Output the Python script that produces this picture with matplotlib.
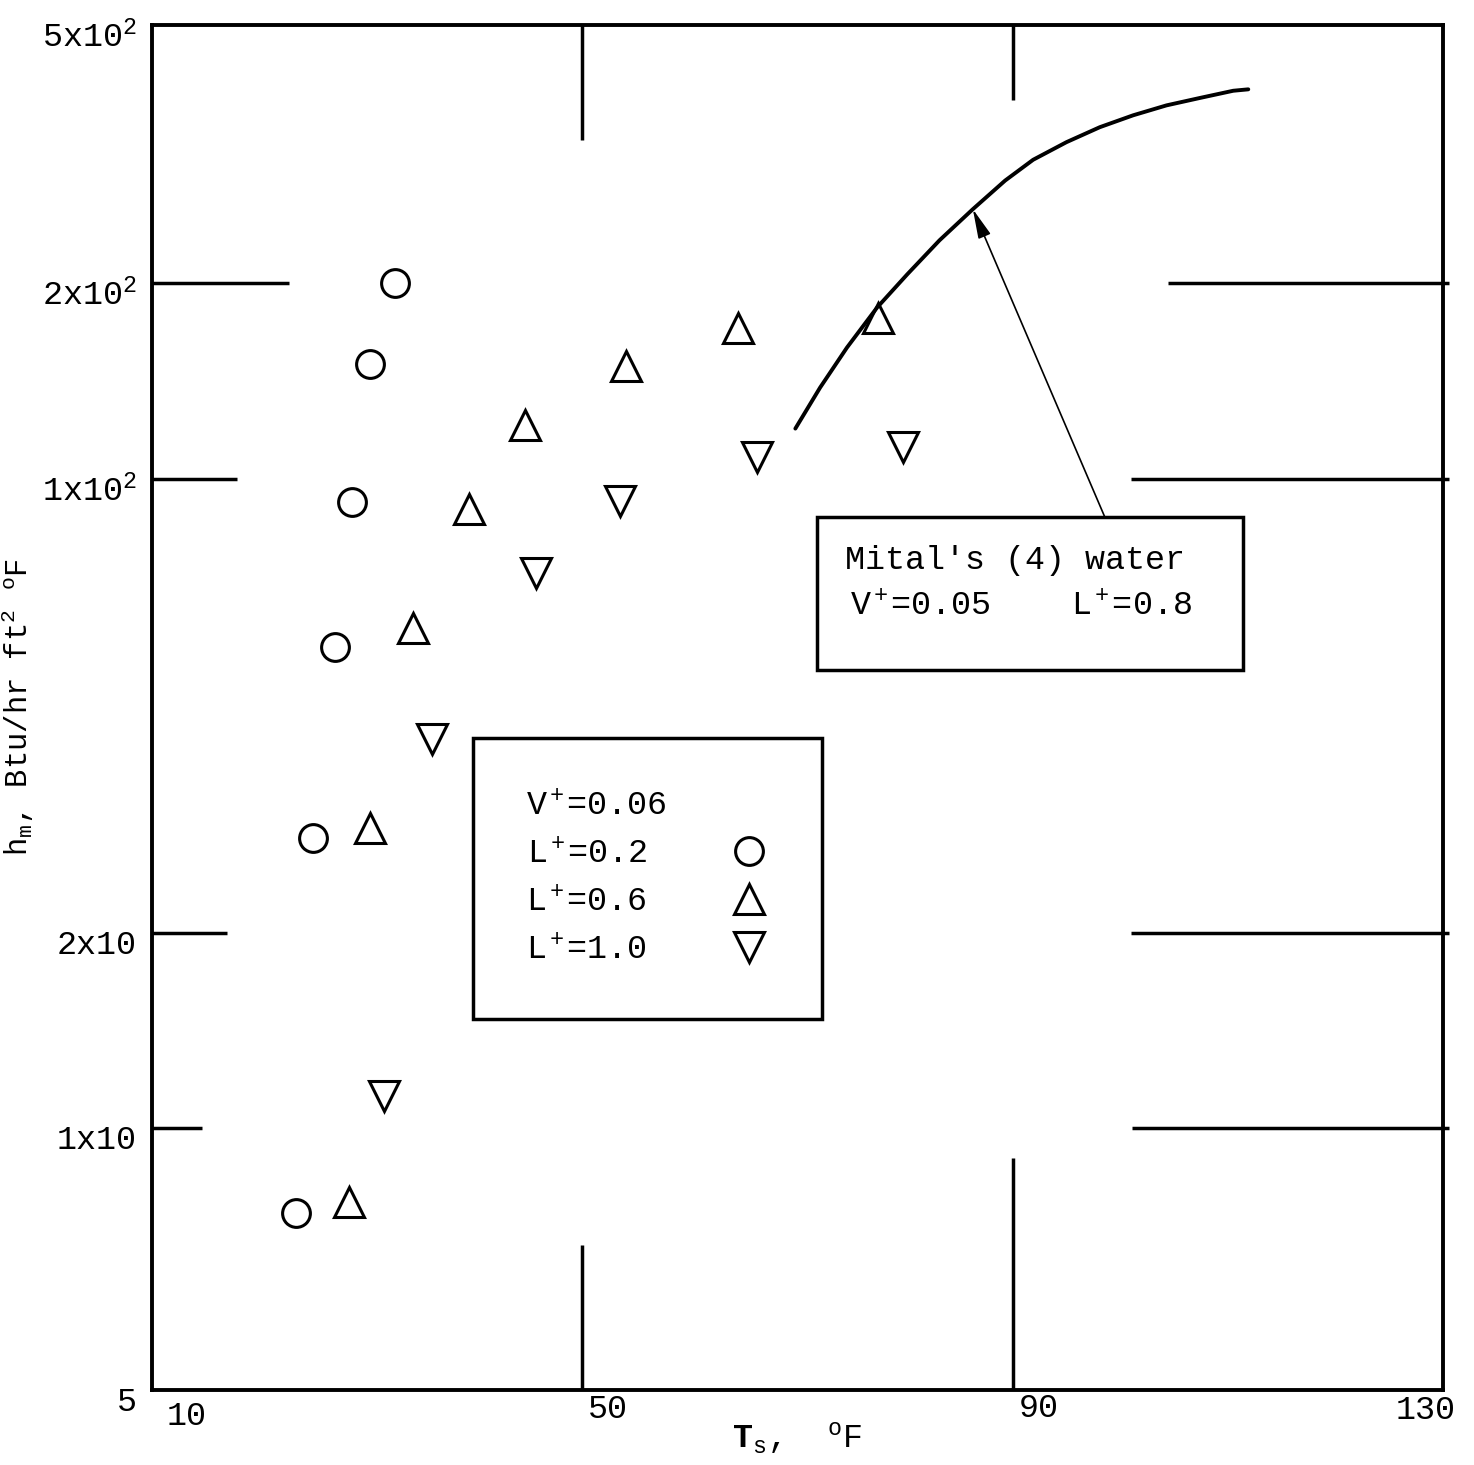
import matplotlib
matplotlib.use("Agg")
import matplotlib.pyplot as plt
from matplotlib.patches import Rectangle
from matplotlib.ticker import NullLocator
from matplotlib.transforms import ScaledTranslation

# surface temperature (F) vs mean heat transfer coefficient h_m
circ_T = [32.6, 30.3, 28.6, 27.0, 25.0, 23.4]          # L+ = 0.2
circ_h = [200, 150, 92, 55, 28, 7.4]
up_T = [64.5, 77.5, 54.1, 44.7, 39.5, 34.3, 30.3, 28.3]  # L+ = 0.6
up_h = [171, 177, 149, 121, 90, 59, 29, 7.7]
down_T = [79.8, 66.2, 53.5, 45.7, 36.0, 31.6]          # L+ = 1.0
down_h = [112, 108, 92.5, 71.6, 39.8, 11.2]

# Mital's (4) water curve, V+=0.05, L+=0.8
mital_T = [69.8, 72.1, 74.6, 77.4, 80.2, 83.2, 86.3, 89.3,
           91.9, 95.0, 98.1, 101.2, 104.3, 107.4, 110.5, 111.9]
mital_h = [119.5, 138.2, 159.3, 183.6, 206.5, 233.0, 260.2, 288,
           310, 330, 348, 363, 376, 386, 396, 398]

y_floor = 3.95
xtick_vals = [10, 50, 90, 130]
xtick_text = ["10", "50", "90", "130"]
ytick_vals = [y_floor, 10, 20, 100, 200, 500]
ytick_text = ["5", "1x10", "2x10", "1x10$^2$", "2x10$^2$", "5x10$^2$"]

plt.rcParams["font.family"] = ["Liberation Mono", "DejaVu Sans"]
plt.rcParams["mathtext.fontset"] = "custom"
plt.rcParams["mathtext.rm"] = "Liberation Mono"
plt.rcParams["mathtext.it"] = "Liberation Mono"
plt.rcParams["mathtext.bf"] = "Liberation Mono:bold"

FS = 24

fig = plt.figure(figsize=(14.74, 14.65), dpi=100)
ax = fig.add_axes([152 / 1474, 75 / 1465, 1291 / 1474, 1365 / 1465])
ax.set_yscale("log")
ax.set_xlim(10, 130)
ax.set_ylim(y_floor, 500)

for s in ax.spines.values():
    s.set_linewidth(2.8)

ax.set_xticks(xtick_vals, xtick_text, fontsize=FS)
ax.set_yticks(ytick_vals, ytick_text, fontsize=FS)
ax.yaxis.set_minor_locator(NullLocator())
ax.tick_params(length=0, pad=8)
ax.tick_params(axis="y", pad=11)

# nudge tick labels the way they sit on the sheet
for lab in ax.get_yticklabels():
    lab.set_transform(lab.get_transform() + ScaledTranslation(0, -0.09, fig.dpi_scale_trans))
x_nudge = [(0.09, 0.0), (0.0, 0.07), (0.0, 0.08), (-0.17, 0.06)]
for lab, (dx, dy) in zip(ax.get_xticklabels(), x_nudge):
    if lab.get_text() != "130":
        lab.set_ha("left")
        dx += 0.06
    lab.set_transform(lab.get_transform() + ScaledTranslation(dx, dy, fig.dpi_scale_trans))

# long grid marks drawn in from the frame
ytr = ax.get_yaxis_transform()
xtr = ax.get_xaxis_transform()
kw = dict(color="k", lw=2.5, solid_capstyle="butt", clip_on=False)
for y, x1 in zip([200, 100, 20, 10], [0.106, 0.066, 0.058, 0.039]):
    ax.plot([0, x1], [y, y], transform=ytr, **kw)
for y, x0 in zip([200, 100, 20, 10], [0.787, 0.758, 0.758, 0.759]):
    ax.plot([x0, 1.005], [y, y], transform=ytr, **kw)
for x, y0 in zip([50, 90], [0.916, 0.945]):
    ax.plot([x, x], [y0, 1], transform=xtr, **kw)
for x, y1 in zip([50, 90], [0.106, 0.170]):
    ax.plot([x, x], [0, y1], transform=xtr, **kw)

mk = dict(ls="none", mfc="none", mec="k", mew=2.2)
ax.plot(circ_T, circ_h, "o", ms=20, label="L$^+$=0.2", **mk)
ax.plot(up_T, up_h, "^", ms=22, label="L$^+$=0.6", **mk)
ax.plot(down_T, down_h, "v", ms=22, label="L$^+$=1.0", **mk)

ax.plot(mital_T, mital_h, color="k", lw=2.8, solid_capstyle="round")

leg = ax.legend(title="V$^+$=0.06", alignment="left", loc="upper left",
                bbox_to_anchor=(0.2486, 0.478), borderaxespad=0,
                markerfirst=False, fancybox=False, edgecolor="k", framealpha=1,
                fontsize=FS, title_fontsize=FS, borderpad=1.6,
                handlelength=1.2, handletextpad=2.45, labelspacing=0.5,
                numpoints=1)
leg.get_frame().set_linewidth(2.5)

# note box for the water curve
ax.add_patch(Rectangle((0.515, 0.5275), 0.33, 0.1121, transform=ax.transAxes,
                       fill=False, ec="k", lw=2.5))
ax.text(0.537, 0.608, "Mital's (4) water", transform=ax.transAxes,
        fontsize=FS, va="center", ha="left")
ax.text(0.5407, 0.5736, "V$^+$=0.05    L$^+$=0.8", transform=ax.transAxes,
        fontsize=FS, va="center", ha="left")
ax.annotate("", xy=(mital_T[6], mital_h[6]), xycoords="data",
            xytext=(0.738, 0.6396), textcoords="axes fraction",
            arrowprops=dict(arrowstyle="-|>,head_length=0.9,head_width=0.2",
                            color="k", lw=1.2, mutation_scale=20,
                            shrinkA=0, shrinkB=0))

ax.set_xlabel(r"$\mathbf{T}_\mathrm{s}$,  $^\mathrm{o}$F", fontsize=FS)
ax.xaxis.set_label_coords(0.5, -0.022)
ax.set_ylabel(r"h$_\mathrm{m}$, Btu/hr ft$^2$ $^\mathrm{o}$F", fontsize=22)
ax.yaxis.set_label_coords(-0.090, 0.5)

fig.savefig("out.png", dpi=100)
